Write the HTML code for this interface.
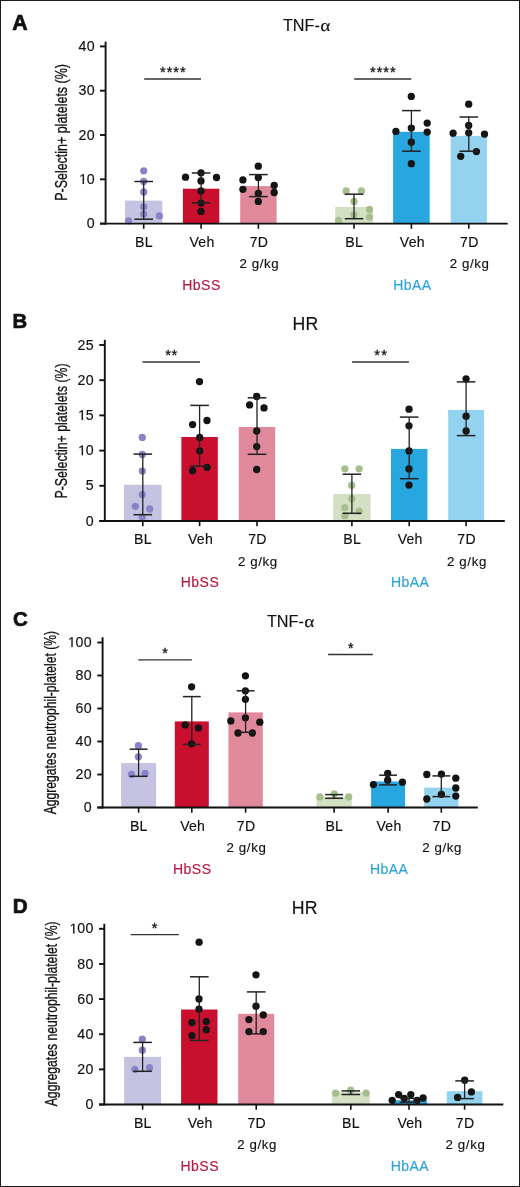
<!DOCTYPE html>
<html><head><meta charset="utf-8"><style>
html,body{margin:0;padding:0;background:#fff;}
body{width:520px;height:1187px;overflow:hidden;position:relative;}
svg{position:absolute;left:0;top:0;display:block;will-change:transform;font-family:"Liberation Sans",sans-serif;}
.frame{position:absolute;left:0;top:0;width:518px;height:1185px;border:1px solid #1a1a1a;}
</style></head><body>
<svg width="520" height="1187" viewBox="0 0 520 1187">
<text x="12.27" y="29.80" font-size="21.30" letter-spacing="-0.27" fill="#111" stroke="#111" stroke-width="0.7" font-weight="bold" >A</text>
<text x="282.98" y="30.50" font-size="16.20" fill="#111" stroke="#111" stroke-width="0.15">TNF-</text>
<text transform="translate(320.24,31.00) scale(1.12,1) skewX(-2)" x="0" y="0" font-size="17.0" font-family="Liberation Serif" fill="#111" stroke="#111" stroke-width="0.15">α</text>
<text transform="translate(67.00,200.80) rotate(-90) scale(0.7644,1)" x="0" y="0" font-size="16.30" fill="#111" stroke="#111" stroke-width="0.3">P-Selectin+ platelets (%)</text>
<rect x="125.10" y="200.60" width="37.20" height="23.00" fill="#c5c3e1"/>
<rect x="182.90" y="188.70" width="36.40" height="34.90" fill="#c8102e"/>
<rect x="240.20" y="186.10" width="36.40" height="37.50" fill="#e0899a"/>
<rect x="335.20" y="207.00" width="37.60" height="16.60" fill="#d4e0c4"/>
<rect x="393.10" y="131.80" width="36.60" height="91.80" fill="#27a6df"/>
<rect x="450.70" y="135.90" width="36.20" height="87.70" fill="#94d3f0"/>
<circle cx="143.70" cy="170.80" r="3.65" fill="#8a84c7"/>
<circle cx="143.70" cy="181.50" r="3.65" fill="#8a84c7"/>
<circle cx="143.70" cy="192.00" r="3.65" fill="#8a84c7"/>
<circle cx="143.70" cy="206.80" r="3.65" fill="#8a84c7"/>
<circle cx="143.70" cy="214.10" r="3.65" fill="#8a84c7"/>
<circle cx="128.60" cy="220.80" r="3.65" fill="#8a84c7"/>
<circle cx="159.30" cy="215.90" r="3.65" fill="#8a84c7"/>
<circle cx="201.00" cy="172.80" r="3.65" fill="#141414"/>
<circle cx="185.50" cy="177.20" r="3.65" fill="#141414"/>
<circle cx="216.50" cy="177.50" r="3.65" fill="#141414"/>
<circle cx="201.00" cy="180.90" r="3.65" fill="#141414"/>
<circle cx="201.00" cy="191.00" r="3.65" fill="#141414"/>
<circle cx="201.00" cy="203.10" r="3.65" fill="#141414"/>
<circle cx="201.00" cy="211.40" r="3.65" fill="#141414"/>
<circle cx="258.30" cy="166.20" r="3.65" fill="#141414"/>
<circle cx="242.90" cy="179.90" r="3.65" fill="#141414"/>
<circle cx="258.30" cy="177.60" r="3.65" fill="#141414"/>
<circle cx="242.90" cy="189.30" r="3.65" fill="#141414"/>
<circle cx="274.20" cy="185.30" r="3.65" fill="#141414"/>
<circle cx="274.20" cy="192.50" r="3.65" fill="#141414"/>
<circle cx="258.30" cy="193.30" r="3.65" fill="#141414"/>
<circle cx="258.30" cy="201.40" r="3.65" fill="#141414"/>
<circle cx="346.20" cy="190.90" r="3.65" fill="#a7bf8f"/>
<circle cx="361.40" cy="190.90" r="3.65" fill="#a7bf8f"/>
<circle cx="354.00" cy="201.40" r="3.65" fill="#a7bf8f"/>
<circle cx="369.50" cy="209.40" r="3.65" fill="#a7bf8f"/>
<circle cx="354.00" cy="214.80" r="3.65" fill="#a7bf8f"/>
<circle cx="369.50" cy="217.10" r="3.65" fill="#a7bf8f"/>
<circle cx="338.60" cy="220.50" r="3.65" fill="#a7bf8f"/>
<circle cx="411.30" cy="96.40" r="3.65" fill="#141414"/>
<circle cx="427.20" cy="123.10" r="3.65" fill="#141414"/>
<circle cx="411.30" cy="128.10" r="3.65" fill="#141414"/>
<circle cx="395.90" cy="131.40" r="3.65" fill="#141414"/>
<circle cx="427.20" cy="132.10" r="3.65" fill="#141414"/>
<circle cx="411.30" cy="142.20" r="3.65" fill="#141414"/>
<circle cx="411.30" cy="163.70" r="3.65" fill="#141414"/>
<circle cx="468.70" cy="104.20" r="3.65" fill="#141414"/>
<circle cx="468.70" cy="125.40" r="3.65" fill="#141414"/>
<circle cx="453.10" cy="133.20" r="3.65" fill="#141414"/>
<circle cx="468.70" cy="132.80" r="3.65" fill="#141414"/>
<circle cx="484.50" cy="134.10" r="3.65" fill="#141414"/>
<circle cx="476.40" cy="151.60" r="3.65" fill="#141414"/>
<circle cx="460.70" cy="156.30" r="3.65" fill="#141414"/>
<line x1="143.70" y1="181.50" x2="143.70" y2="219.20" stroke="#222" stroke-width="1.3"/>
<line x1="134.40" y1="181.50" x2="153.00" y2="181.50" stroke="#222" stroke-width="1.5"/>
<line x1="134.40" y1="219.20" x2="153.00" y2="219.20" stroke="#222" stroke-width="1.5"/>
<line x1="201.10" y1="173.00" x2="201.10" y2="202.80" stroke="#222" stroke-width="1.3"/>
<line x1="191.80" y1="173.00" x2="210.40" y2="173.00" stroke="#222" stroke-width="1.5"/>
<line x1="191.80" y1="202.80" x2="210.40" y2="202.80" stroke="#222" stroke-width="1.5"/>
<line x1="258.40" y1="174.60" x2="258.40" y2="196.60" stroke="#222" stroke-width="1.3"/>
<line x1="249.10" y1="174.60" x2="267.70" y2="174.60" stroke="#222" stroke-width="1.5"/>
<line x1="249.10" y1="196.60" x2="267.70" y2="196.60" stroke="#222" stroke-width="1.5"/>
<line x1="354.00" y1="194.20" x2="354.00" y2="218.70" stroke="#222" stroke-width="1.3"/>
<line x1="344.70" y1="194.20" x2="363.30" y2="194.20" stroke="#222" stroke-width="1.5"/>
<line x1="344.70" y1="218.70" x2="363.30" y2="218.70" stroke="#222" stroke-width="1.5"/>
<line x1="411.40" y1="110.60" x2="411.40" y2="151.20" stroke="#222" stroke-width="1.3"/>
<line x1="402.10" y1="110.60" x2="420.70" y2="110.60" stroke="#222" stroke-width="1.5"/>
<line x1="402.10" y1="151.20" x2="420.70" y2="151.20" stroke="#222" stroke-width="1.5"/>
<line x1="468.80" y1="117.00" x2="468.80" y2="151.20" stroke="#222" stroke-width="1.3"/>
<line x1="459.50" y1="117.00" x2="478.10" y2="117.00" stroke="#222" stroke-width="1.5"/>
<line x1="459.50" y1="151.20" x2="478.10" y2="151.20" stroke="#222" stroke-width="1.5"/>
<line x1="105.60" y1="41.60" x2="105.60" y2="224.50" stroke="#111" stroke-width="1.9"/>
<line x1="100.00" y1="223.60" x2="507.70" y2="223.60" stroke="#111" stroke-width="1.9"/>
<line x1="100.00" y1="223.60" x2="105.60" y2="223.60" stroke="#111" stroke-width="1.9"/>
<line x1="100.00" y1="179.30" x2="105.60" y2="179.30" stroke="#111" stroke-width="1.9"/>
<line x1="100.00" y1="135.00" x2="105.60" y2="135.00" stroke="#111" stroke-width="1.9"/>
<line x1="100.00" y1="90.70" x2="105.60" y2="90.70" stroke="#111" stroke-width="1.9"/>
<line x1="100.00" y1="46.40" x2="105.60" y2="46.40" stroke="#111" stroke-width="1.9"/>
<line x1="143.70" y1="223.60" x2="143.70" y2="228.80" stroke="#111" stroke-width="1.6"/>
<line x1="201.10" y1="223.60" x2="201.10" y2="228.80" stroke="#111" stroke-width="1.6"/>
<line x1="258.40" y1="223.60" x2="258.40" y2="228.80" stroke="#111" stroke-width="1.6"/>
<line x1="354.00" y1="223.60" x2="354.00" y2="228.80" stroke="#111" stroke-width="1.6"/>
<line x1="411.40" y1="223.60" x2="411.40" y2="228.80" stroke="#111" stroke-width="1.6"/>
<line x1="468.80" y1="223.60" x2="468.80" y2="228.80" stroke="#111" stroke-width="1.6"/>
<text x="86.69" y="228.22" font-size="14.20" letter-spacing="0.40" fill="#111" stroke="#111" stroke-width="0.15">0</text>
<path transform="translate(79.11,183.92) scale(0.00693,-0.00693)" d="M515,0 L515,1237 L197,1010 L197,1180 L530,1409 L696,1409 L696,0 Z" fill="#111" stroke="#111" stroke-width="21.6"/>
<text x="86.70" y="183.92" font-size="14.20" letter-spacing="0.40" fill="#111" stroke="#111" stroke-width="0.15">0</text>
<text x="78.41" y="139.62" font-size="14.20" letter-spacing="0.40" fill="#111" stroke="#111" stroke-width="0.15">20</text>
<text x="78.41" y="95.32" font-size="14.20" letter-spacing="0.40" fill="#111" stroke="#111" stroke-width="0.15">30</text>
<text x="78.41" y="51.02" font-size="14.20" letter-spacing="0.40" fill="#111" stroke="#111" stroke-width="0.15">40</text>
<text x="135.00" y="246.60" font-size="14.10" letter-spacing="0.30" fill="#111" stroke="#111" stroke-width="0.15">BL</text>
<text x="189.56" y="246.60" font-size="14.10" letter-spacing="0.20" fill="#111" stroke="#111" stroke-width="0.15">Veh</text>
<text x="249.63" y="246.60" font-size="14.10" letter-spacing="0.30" fill="#111" stroke="#111" stroke-width="0.15">7D</text>
<text x="239.38" y="268.20" font-size="13.30" letter-spacing="0.60" fill="#111" stroke="#111" stroke-width="0.15">2 g/kg</text>
<text x="345.30" y="246.60" font-size="14.10" letter-spacing="0.30" fill="#111" stroke="#111" stroke-width="0.15">BL</text>
<text x="399.86" y="246.60" font-size="14.10" letter-spacing="0.20" fill="#111" stroke="#111" stroke-width="0.15">Veh</text>
<text x="460.03" y="246.60" font-size="14.10" letter-spacing="0.30" fill="#111" stroke="#111" stroke-width="0.15">7D</text>
<text x="449.78" y="268.20" font-size="13.30" letter-spacing="0.60" fill="#111" stroke="#111" stroke-width="0.15">2 g/kg</text>
<text x="182.23" y="289.60" font-size="14.00" letter-spacing="0.50" fill="#b8173f" stroke="#b8173f" stroke-width="0.15">HbSS</text>
<text x="393.27" y="289.60" font-size="14.00" letter-spacing="0.40" fill="#2aa2db" stroke="#2aa2db" stroke-width="0.15">HbAA</text>
<line x1="144.20" y1="79.00" x2="201.00" y2="79.00" stroke="#333" stroke-width="1.3"/>
<text x="160.01" y="77.25" font-size="14.57" letter-spacing="0.96" fill="#111" stroke="#111" stroke-width="0.3">****</text>
<line x1="354.20" y1="79.00" x2="411.30" y2="79.00" stroke="#333" stroke-width="1.3"/>
<text x="370.01" y="77.25" font-size="14.57" letter-spacing="0.96" fill="#111" stroke="#111" stroke-width="0.3">****</text>
<text x="12.48" y="328.40" font-size="20.29" letter-spacing="1.42" fill="#111" stroke="#111" stroke-width="0.7" font-weight="bold" >B</text>
<text x="292.38" y="329.90" font-size="17.70" letter-spacing="0.4" fill="#111" stroke="#111" stroke-width="0.15">HR</text>
<text transform="translate(66.70,498.49) rotate(-90) scale(0.7559,1)" x="0" y="0" font-size="16.30" fill="#111" stroke="#111" stroke-width="0.3">P-Selectin+ platelets (%)</text>
<rect x="124.00" y="484.80" width="37.60" height="36.20" fill="#c5c3e1"/>
<rect x="181.40" y="437.00" width="36.40" height="84.00" fill="#c8102e"/>
<rect x="238.80" y="427.00" width="36.40" height="94.00" fill="#e0899a"/>
<rect x="333.20" y="494.00" width="37.40" height="27.00" fill="#d4e0c4"/>
<rect x="391.00" y="448.90" width="36.40" height="72.10" fill="#27a6df"/>
<rect x="448.20" y="410.00" width="35.80" height="111.00" fill="#94d3f0"/>
<circle cx="142.30" cy="437.40" r="3.65" fill="#8a84c7"/>
<circle cx="142.30" cy="454.50" r="3.65" fill="#8a84c7"/>
<circle cx="142.30" cy="471.10" r="3.65" fill="#8a84c7"/>
<circle cx="142.30" cy="494.60" r="3.65" fill="#8a84c7"/>
<circle cx="135.30" cy="506.30" r="3.65" fill="#8a84c7"/>
<circle cx="149.70" cy="509.00" r="3.65" fill="#8a84c7"/>
<circle cx="142.30" cy="517.10" r="3.65" fill="#8a84c7"/>
<circle cx="199.50" cy="381.60" r="3.65" fill="#141414"/>
<circle cx="192.60" cy="424.60" r="3.65" fill="#141414"/>
<circle cx="207.00" cy="420.50" r="3.65" fill="#141414"/>
<circle cx="199.70" cy="437.40" r="3.65" fill="#141414"/>
<circle cx="199.70" cy="450.90" r="3.65" fill="#141414"/>
<circle cx="192.60" cy="470.70" r="3.65" fill="#141414"/>
<circle cx="207.00" cy="467.30" r="3.65" fill="#141414"/>
<circle cx="256.70" cy="396.40" r="3.65" fill="#141414"/>
<circle cx="249.60" cy="404.90" r="3.65" fill="#141414"/>
<circle cx="264.00" cy="407.90" r="3.65" fill="#141414"/>
<circle cx="256.70" cy="431.00" r="3.65" fill="#141414"/>
<circle cx="256.70" cy="446.60" r="3.65" fill="#141414"/>
<circle cx="256.70" cy="469.50" r="3.65" fill="#141414"/>
<circle cx="344.90" cy="468.80" r="3.65" fill="#a7bf8f"/>
<circle cx="359.10" cy="468.80" r="3.65" fill="#a7bf8f"/>
<circle cx="351.70" cy="485.30" r="3.65" fill="#a7bf8f"/>
<circle cx="351.70" cy="498.70" r="3.65" fill="#a7bf8f"/>
<circle cx="344.90" cy="507.60" r="3.65" fill="#a7bf8f"/>
<circle cx="359.10" cy="511.20" r="3.65" fill="#a7bf8f"/>
<circle cx="344.90" cy="515.70" r="3.65" fill="#a7bf8f"/>
<circle cx="409.00" cy="409.20" r="3.65" fill="#141414"/>
<circle cx="409.00" cy="425.80" r="3.65" fill="#141414"/>
<circle cx="409.00" cy="450.90" r="3.65" fill="#141414"/>
<circle cx="409.00" cy="468.90" r="3.65" fill="#141414"/>
<circle cx="409.00" cy="485.10" r="3.65" fill="#141414"/>
<circle cx="466.10" cy="378.80" r="3.65" fill="#141414"/>
<circle cx="466.10" cy="416.20" r="3.65" fill="#141414"/>
<circle cx="466.10" cy="431.00" r="3.65" fill="#141414"/>
<line x1="142.80" y1="454.10" x2="142.80" y2="514.70" stroke="#222" stroke-width="1.3"/>
<line x1="133.50" y1="454.10" x2="152.10" y2="454.10" stroke="#222" stroke-width="1.5"/>
<line x1="133.50" y1="514.70" x2="152.10" y2="514.70" stroke="#222" stroke-width="1.5"/>
<line x1="199.60" y1="405.40" x2="199.60" y2="466.20" stroke="#222" stroke-width="1.3"/>
<line x1="190.30" y1="405.40" x2="208.90" y2="405.40" stroke="#222" stroke-width="1.5"/>
<line x1="190.30" y1="466.20" x2="208.90" y2="466.20" stroke="#222" stroke-width="1.5"/>
<line x1="257.00" y1="397.80" x2="257.00" y2="454.30" stroke="#222" stroke-width="1.3"/>
<line x1="247.70" y1="397.80" x2="266.30" y2="397.80" stroke="#222" stroke-width="1.5"/>
<line x1="247.70" y1="454.30" x2="266.30" y2="454.30" stroke="#222" stroke-width="1.5"/>
<line x1="351.90" y1="474.20" x2="351.90" y2="513.30" stroke="#222" stroke-width="1.3"/>
<line x1="342.60" y1="474.20" x2="361.20" y2="474.20" stroke="#222" stroke-width="1.5"/>
<line x1="342.60" y1="513.30" x2="361.20" y2="513.30" stroke="#222" stroke-width="1.5"/>
<line x1="409.20" y1="417.10" x2="409.20" y2="478.70" stroke="#222" stroke-width="1.3"/>
<line x1="399.90" y1="417.10" x2="418.50" y2="417.10" stroke="#222" stroke-width="1.5"/>
<line x1="399.90" y1="478.70" x2="418.50" y2="478.70" stroke="#222" stroke-width="1.5"/>
<line x1="466.10" y1="381.90" x2="466.10" y2="435.60" stroke="#222" stroke-width="1.3"/>
<line x1="456.80" y1="381.90" x2="475.40" y2="381.90" stroke="#222" stroke-width="1.5"/>
<line x1="456.80" y1="435.60" x2="475.40" y2="435.60" stroke="#222" stroke-width="1.5"/>
<line x1="104.80" y1="339.80" x2="104.80" y2="521.90" stroke="#111" stroke-width="1.9"/>
<line x1="99.30" y1="521.00" x2="504.80" y2="521.00" stroke="#111" stroke-width="1.9"/>
<line x1="99.30" y1="521.00" x2="104.80" y2="521.00" stroke="#111" stroke-width="1.9"/>
<line x1="99.30" y1="485.80" x2="104.80" y2="485.80" stroke="#111" stroke-width="1.9"/>
<line x1="99.30" y1="450.60" x2="104.80" y2="450.60" stroke="#111" stroke-width="1.9"/>
<line x1="99.30" y1="415.40" x2="104.80" y2="415.40" stroke="#111" stroke-width="1.9"/>
<line x1="99.30" y1="380.20" x2="104.80" y2="380.20" stroke="#111" stroke-width="1.9"/>
<line x1="99.30" y1="345.00" x2="104.80" y2="345.00" stroke="#111" stroke-width="1.9"/>
<line x1="142.80" y1="521.00" x2="142.80" y2="526.20" stroke="#111" stroke-width="1.6"/>
<line x1="199.60" y1="521.00" x2="199.60" y2="526.20" stroke="#111" stroke-width="1.6"/>
<line x1="257.00" y1="521.00" x2="257.00" y2="526.20" stroke="#111" stroke-width="1.6"/>
<line x1="351.90" y1="521.00" x2="351.90" y2="526.20" stroke="#111" stroke-width="1.6"/>
<line x1="409.20" y1="521.00" x2="409.20" y2="526.20" stroke="#111" stroke-width="1.6"/>
<line x1="466.10" y1="521.00" x2="466.10" y2="526.20" stroke="#111" stroke-width="1.6"/>
<text x="85.69" y="525.62" font-size="14.20" letter-spacing="0.40" fill="#111" stroke="#111" stroke-width="0.15">0</text>
<text x="85.69" y="490.42" font-size="14.20" letter-spacing="0.40" fill="#111" stroke="#111" stroke-width="0.15">5</text>
<path transform="translate(78.11,455.22) scale(0.00693,-0.00693)" d="M515,0 L515,1237 L197,1010 L197,1180 L530,1409 L696,1409 L696,0 Z" fill="#111" stroke="#111" stroke-width="21.6"/>
<text x="85.70" y="455.22" font-size="14.20" letter-spacing="0.40" fill="#111" stroke="#111" stroke-width="0.15">0</text>
<path transform="translate(78.11,420.02) scale(0.00693,-0.00693)" d="M515,0 L515,1237 L197,1010 L197,1180 L530,1409 L696,1409 L696,0 Z" fill="#111" stroke="#111" stroke-width="21.6"/>
<text x="85.70" y="420.02" font-size="14.20" letter-spacing="0.40" fill="#111" stroke="#111" stroke-width="0.15">5</text>
<text x="77.41" y="384.82" font-size="14.20" letter-spacing="0.40" fill="#111" stroke="#111" stroke-width="0.15">20</text>
<text x="77.41" y="349.62" font-size="14.20" letter-spacing="0.40" fill="#111" stroke="#111" stroke-width="0.15">25</text>
<text x="134.10" y="544.00" font-size="14.10" letter-spacing="0.30" fill="#111" stroke="#111" stroke-width="0.15">BL</text>
<text x="188.06" y="544.00" font-size="14.10" letter-spacing="0.20" fill="#111" stroke="#111" stroke-width="0.15">Veh</text>
<text x="248.23" y="544.00" font-size="14.10" letter-spacing="0.30" fill="#111" stroke="#111" stroke-width="0.15">7D</text>
<text x="237.98" y="565.60" font-size="13.30" letter-spacing="0.60" fill="#111" stroke="#111" stroke-width="0.15">2 g/kg</text>
<text x="343.20" y="544.00" font-size="14.10" letter-spacing="0.30" fill="#111" stroke="#111" stroke-width="0.15">BL</text>
<text x="397.66" y="544.00" font-size="14.10" letter-spacing="0.20" fill="#111" stroke="#111" stroke-width="0.15">Veh</text>
<text x="457.33" y="544.00" font-size="14.10" letter-spacing="0.30" fill="#111" stroke="#111" stroke-width="0.15">7D</text>
<text x="447.08" y="565.60" font-size="13.30" letter-spacing="0.60" fill="#111" stroke="#111" stroke-width="0.15">2 g/kg</text>
<text x="180.73" y="587.00" font-size="14.00" letter-spacing="0.50" fill="#b8173f" stroke="#b8173f" stroke-width="0.15">HbSS</text>
<text x="391.07" y="587.00" font-size="14.00" letter-spacing="0.40" fill="#2aa2db" stroke="#2aa2db" stroke-width="0.15">HbAA</text>
<line x1="142.50" y1="362.00" x2="200.00" y2="362.00" stroke="#333" stroke-width="1.3"/>
<text x="165.20" y="360.25" font-size="14.86" letter-spacing="0.52" fill="#111" stroke="#111" stroke-width="0.3">**</text>
<line x1="352.10" y1="362.00" x2="408.90" y2="362.00" stroke="#333" stroke-width="1.3"/>
<text x="374.30" y="360.25" font-size="14.86" letter-spacing="1.12" fill="#111" stroke="#111" stroke-width="0.3">**</text>
<text x="12.88" y="626.00" font-size="20.43" letter-spacing="-0.38" fill="#111" stroke="#111" stroke-width="0.7" font-weight="bold" >C</text>
<text x="266.98" y="626.80" font-size="16.20" fill="#111" stroke="#111" stroke-width="0.15">TNF-</text>
<text transform="translate(304.24,627.30) scale(1.12,1) skewX(-2)" x="0" y="0" font-size="17.0" font-family="Liberation Serif" fill="#111" stroke="#111" stroke-width="0.15">α</text>
<text transform="translate(56.00,814.26) rotate(-90) scale(0.7506,1)" x="0" y="0" font-size="16.10" fill="#111" stroke="#111" stroke-width="0.3">Aggregates neutrophil-platelet (%)</text>
<rect x="121.10" y="763.10" width="35.00" height="44.40" fill="#c5c3e1"/>
<rect x="174.80" y="721.40" width="34.00" height="86.10" fill="#c8102e"/>
<rect x="228.40" y="712.40" width="34.40" height="95.10" fill="#e0899a"/>
<rect x="316.40" y="796.90" width="35.40" height="10.60" fill="#d4e0c4"/>
<rect x="371.10" y="781.50" width="34.00" height="26.00" fill="#27a6df"/>
<rect x="424.20" y="787.60" width="34.20" height="19.90" fill="#94d3f0"/>
<circle cx="138.40" cy="745.70" r="3.65" fill="#8a84c7"/>
<circle cx="138.40" cy="756.80" r="3.65" fill="#8a84c7"/>
<circle cx="131.50" cy="774.30" r="3.65" fill="#8a84c7"/>
<circle cx="145.00" cy="773.40" r="3.65" fill="#8a84c7"/>
<circle cx="191.60" cy="686.80" r="3.65" fill="#141414"/>
<circle cx="185.20" cy="724.90" r="3.65" fill="#141414"/>
<circle cx="198.40" cy="727.90" r="3.65" fill="#141414"/>
<circle cx="191.60" cy="743.80" r="3.65" fill="#141414"/>
<circle cx="245.40" cy="675.80" r="3.65" fill="#141414"/>
<circle cx="245.40" cy="690.80" r="3.65" fill="#141414"/>
<circle cx="245.40" cy="699.30" r="3.65" fill="#141414"/>
<circle cx="245.40" cy="717.80" r="3.65" fill="#141414"/>
<circle cx="230.80" cy="720.90" r="3.65" fill="#141414"/>
<circle cx="259.80" cy="722.20" r="3.65" fill="#141414"/>
<circle cx="238.00" cy="733.00" r="3.65" fill="#141414"/>
<circle cx="252.40" cy="733.00" r="3.65" fill="#141414"/>
<circle cx="319.90" cy="796.90" r="3.65" fill="#a7bf8f"/>
<circle cx="334.30" cy="794.00" r="3.65" fill="#a7bf8f"/>
<circle cx="348.70" cy="796.90" r="3.65" fill="#a7bf8f"/>
<circle cx="387.70" cy="773.50" r="3.65" fill="#141414"/>
<circle cx="387.70" cy="780.20" r="3.65" fill="#141414"/>
<circle cx="373.40" cy="784.60" r="3.65" fill="#141414"/>
<circle cx="402.40" cy="782.20" r="3.65" fill="#141414"/>
<circle cx="426.80" cy="774.50" r="3.65" fill="#141414"/>
<circle cx="441.40" cy="774.10" r="3.65" fill="#141414"/>
<circle cx="455.80" cy="778.20" r="3.65" fill="#141414"/>
<circle cx="455.80" cy="788.00" r="3.65" fill="#141414"/>
<circle cx="441.40" cy="794.30" r="3.65" fill="#141414"/>
<circle cx="455.80" cy="796.10" r="3.65" fill="#141414"/>
<circle cx="426.80" cy="799.00" r="3.65" fill="#141414"/>
<line x1="138.60" y1="749.20" x2="138.60" y2="776.30" stroke="#222" stroke-width="1.3"/>
<line x1="129.70" y1="749.20" x2="147.50" y2="749.20" stroke="#222" stroke-width="1.5"/>
<line x1="129.70" y1="776.30" x2="147.50" y2="776.30" stroke="#222" stroke-width="1.5"/>
<line x1="191.80" y1="696.60" x2="191.80" y2="744.40" stroke="#222" stroke-width="1.3"/>
<line x1="182.90" y1="696.60" x2="200.70" y2="696.60" stroke="#222" stroke-width="1.5"/>
<line x1="182.90" y1="744.40" x2="200.70" y2="744.40" stroke="#222" stroke-width="1.5"/>
<line x1="245.60" y1="690.80" x2="245.60" y2="732.30" stroke="#222" stroke-width="1.3"/>
<line x1="236.70" y1="690.80" x2="254.50" y2="690.80" stroke="#222" stroke-width="1.5"/>
<line x1="236.70" y1="732.30" x2="254.50" y2="732.30" stroke="#222" stroke-width="1.5"/>
<line x1="334.10" y1="794.60" x2="334.10" y2="798.30" stroke="#222" stroke-width="1.3"/>
<line x1="325.20" y1="794.60" x2="343.00" y2="794.60" stroke="#222" stroke-width="1.5"/>
<line x1="325.20" y1="798.30" x2="343.00" y2="798.30" stroke="#222" stroke-width="1.5"/>
<line x1="388.10" y1="775.20" x2="388.10" y2="784.90" stroke="#222" stroke-width="1.3"/>
<line x1="379.20" y1="775.20" x2="397.00" y2="775.20" stroke="#222" stroke-width="1.5"/>
<line x1="379.20" y1="784.90" x2="397.00" y2="784.90" stroke="#222" stroke-width="1.5"/>
<line x1="441.30" y1="775.90" x2="441.30" y2="796.60" stroke="#222" stroke-width="1.3"/>
<line x1="432.40" y1="775.90" x2="450.20" y2="775.90" stroke="#222" stroke-width="1.5"/>
<line x1="432.40" y1="796.60" x2="450.20" y2="796.60" stroke="#222" stroke-width="1.5"/>
<line x1="102.60" y1="637.20" x2="102.60" y2="808.40" stroke="#111" stroke-width="1.9"/>
<line x1="97.30" y1="807.50" x2="477.80" y2="807.50" stroke="#111" stroke-width="1.9"/>
<line x1="97.30" y1="807.50" x2="102.60" y2="807.50" stroke="#111" stroke-width="1.9"/>
<line x1="97.30" y1="774.50" x2="102.60" y2="774.50" stroke="#111" stroke-width="1.9"/>
<line x1="97.30" y1="741.50" x2="102.60" y2="741.50" stroke="#111" stroke-width="1.9"/>
<line x1="97.30" y1="708.50" x2="102.60" y2="708.50" stroke="#111" stroke-width="1.9"/>
<line x1="97.30" y1="675.50" x2="102.60" y2="675.50" stroke="#111" stroke-width="1.9"/>
<line x1="97.30" y1="642.50" x2="102.60" y2="642.50" stroke="#111" stroke-width="1.9"/>
<line x1="138.60" y1="807.50" x2="138.60" y2="812.70" stroke="#111" stroke-width="1.6"/>
<line x1="191.80" y1="807.50" x2="191.80" y2="812.70" stroke="#111" stroke-width="1.6"/>
<line x1="245.60" y1="807.50" x2="245.60" y2="812.70" stroke="#111" stroke-width="1.6"/>
<line x1="334.10" y1="807.50" x2="334.10" y2="812.70" stroke="#111" stroke-width="1.6"/>
<line x1="388.10" y1="807.50" x2="388.10" y2="812.70" stroke="#111" stroke-width="1.6"/>
<line x1="441.30" y1="807.50" x2="441.30" y2="812.70" stroke="#111" stroke-width="1.6"/>
<text x="83.69" y="812.12" font-size="14.20" letter-spacing="0.40" fill="#111" stroke="#111" stroke-width="0.15">0</text>
<text x="75.41" y="779.12" font-size="14.20" letter-spacing="0.40" fill="#111" stroke="#111" stroke-width="0.15">20</text>
<text x="75.41" y="746.12" font-size="14.20" letter-spacing="0.40" fill="#111" stroke="#111" stroke-width="0.15">40</text>
<text x="75.41" y="713.12" font-size="14.20" letter-spacing="0.40" fill="#111" stroke="#111" stroke-width="0.15">60</text>
<text x="75.41" y="680.12" font-size="14.20" letter-spacing="0.40" fill="#111" stroke="#111" stroke-width="0.15">80</text>
<path transform="translate(67.83,647.12) scale(0.00693,-0.00693)" d="M515,0 L515,1237 L197,1010 L197,1180 L530,1409 L696,1409 L696,0 Z" fill="#111" stroke="#111" stroke-width="21.6"/>
<text x="75.42" y="647.12" font-size="14.20" letter-spacing="0.40" fill="#111" stroke="#111" stroke-width="0.15">00</text>
<text x="129.90" y="830.50" font-size="14.10" letter-spacing="0.30" fill="#111" stroke="#111" stroke-width="0.15">BL</text>
<text x="180.26" y="830.50" font-size="14.10" letter-spacing="0.20" fill="#111" stroke="#111" stroke-width="0.15">Veh</text>
<text x="236.83" y="830.50" font-size="14.10" letter-spacing="0.30" fill="#111" stroke="#111" stroke-width="0.15">7D</text>
<text x="226.58" y="852.10" font-size="13.30" letter-spacing="0.60" fill="#111" stroke="#111" stroke-width="0.15">2 g/kg</text>
<text x="325.40" y="830.50" font-size="14.10" letter-spacing="0.30" fill="#111" stroke="#111" stroke-width="0.15">BL</text>
<text x="376.56" y="830.50" font-size="14.10" letter-spacing="0.20" fill="#111" stroke="#111" stroke-width="0.15">Veh</text>
<text x="432.53" y="830.50" font-size="14.10" letter-spacing="0.30" fill="#111" stroke="#111" stroke-width="0.15">7D</text>
<text x="422.28" y="852.10" font-size="13.30" letter-spacing="0.60" fill="#111" stroke="#111" stroke-width="0.15">2 g/kg</text>
<text x="172.94" y="873.50" font-size="14.00" letter-spacing="0.50" fill="#b8173f" stroke="#b8173f" stroke-width="0.15">HbSS</text>
<text x="369.97" y="873.50" font-size="14.00" letter-spacing="0.40" fill="#2aa2db" stroke="#2aa2db" stroke-width="0.15">HbAA</text>
<line x1="138.30" y1="659.90" x2="191.90" y2="659.90" stroke="#333" stroke-width="1.3"/>
<text x="162.21" y="657.66" font-size="14.29" letter-spacing="0.00" fill="#111" stroke="#111" stroke-width="0.3">*</text>
<line x1="328.10" y1="654.50" x2="372.80" y2="654.50" stroke="#333" stroke-width="1.3"/>
<text x="347.91" y="652.66" font-size="14.29" letter-spacing="0.00" fill="#111" stroke="#111" stroke-width="0.3">*</text>
<text x="12.66" y="912.50" font-size="20.58" letter-spacing="0.94" fill="#111" stroke="#111" stroke-width="0.7" font-weight="bold" >D</text>
<text x="291.68" y="914.25" font-size="17.70" letter-spacing="0.4" fill="#111" stroke="#111" stroke-width="0.15">HR</text>
<text transform="translate(57.30,1106.26) rotate(-90) scale(0.7572,1)" x="0" y="0" font-size="16.10" fill="#111" stroke="#111" stroke-width="0.3">Aggregates neutrophil-platelet (%)</text>
<rect x="124.10" y="1056.90" width="37.00" height="47.60" fill="#c5c3e1"/>
<rect x="181.10" y="1009.50" width="36.40" height="95.00" fill="#c8102e"/>
<rect x="238.20" y="1013.80" width="36.00" height="90.70" fill="#e0899a"/>
<rect x="331.80" y="1092.20" width="38.00" height="12.30" fill="#d4e0c4"/>
<rect x="390.80" y="1100.30" width="36.40" height="4.20" fill="#27a6df"/>
<rect x="446.80" y="1091.20" width="35.60" height="13.30" fill="#94d3f0"/>
<circle cx="142.30" cy="1039.20" r="3.65" fill="#8a84c7"/>
<circle cx="142.30" cy="1050.20" r="3.65" fill="#8a84c7"/>
<circle cx="134.90" cy="1069.30" r="3.65" fill="#8a84c7"/>
<circle cx="149.40" cy="1067.70" r="3.65" fill="#8a84c7"/>
<circle cx="199.10" cy="942.20" r="3.65" fill="#141414"/>
<circle cx="199.00" cy="999.00" r="3.65" fill="#141414"/>
<circle cx="199.00" cy="1009.10" r="3.65" fill="#141414"/>
<circle cx="191.90" cy="1022.60" r="3.65" fill="#141414"/>
<circle cx="206.30" cy="1021.60" r="3.65" fill="#141414"/>
<circle cx="206.30" cy="1029.70" r="3.65" fill="#141414"/>
<circle cx="191.90" cy="1035.60" r="3.65" fill="#141414"/>
<circle cx="256.00" cy="974.80" r="3.65" fill="#141414"/>
<circle cx="256.00" cy="1006.20" r="3.65" fill="#141414"/>
<circle cx="263.30" cy="1014.90" r="3.65" fill="#141414"/>
<circle cx="248.90" cy="1019.60" r="3.65" fill="#141414"/>
<circle cx="248.90" cy="1031.60" r="3.65" fill="#141414"/>
<circle cx="263.30" cy="1031.60" r="3.65" fill="#141414"/>
<circle cx="335.60" cy="1093.10" r="3.65" fill="#a7bf8f"/>
<circle cx="350.70" cy="1090.20" r="3.65" fill="#a7bf8f"/>
<circle cx="366.10" cy="1093.10" r="3.65" fill="#a7bf8f"/>
<circle cx="392.20" cy="1100.30" r="3.65" fill="#141414"/>
<circle cx="398.60" cy="1094.60" r="3.65" fill="#141414"/>
<circle cx="404.30" cy="1098.30" r="3.65" fill="#141414"/>
<circle cx="410.80" cy="1094.60" r="3.65" fill="#141414"/>
<circle cx="417.10" cy="1100.30" r="3.65" fill="#141414"/>
<circle cx="423.10" cy="1098.00" r="3.65" fill="#141414"/>
<circle cx="464.70" cy="1080.20" r="3.65" fill="#141414"/>
<circle cx="471.40" cy="1091.90" r="3.65" fill="#141414"/>
<circle cx="457.60" cy="1097.40" r="3.65" fill="#141414"/>
<line x1="142.60" y1="1042.40" x2="142.60" y2="1071.30" stroke="#222" stroke-width="1.3"/>
<line x1="133.30" y1="1042.40" x2="151.90" y2="1042.40" stroke="#222" stroke-width="1.5"/>
<line x1="133.30" y1="1071.30" x2="151.90" y2="1071.30" stroke="#222" stroke-width="1.5"/>
<line x1="199.30" y1="976.80" x2="199.30" y2="1040.50" stroke="#222" stroke-width="1.3"/>
<line x1="190.00" y1="976.80" x2="208.60" y2="976.80" stroke="#222" stroke-width="1.5"/>
<line x1="190.00" y1="1040.50" x2="208.60" y2="1040.50" stroke="#222" stroke-width="1.5"/>
<line x1="256.20" y1="991.90" x2="256.20" y2="1033.80" stroke="#222" stroke-width="1.3"/>
<line x1="246.90" y1="991.90" x2="265.50" y2="991.90" stroke="#222" stroke-width="1.5"/>
<line x1="246.90" y1="1033.80" x2="265.50" y2="1033.80" stroke="#222" stroke-width="1.5"/>
<line x1="350.80" y1="1090.90" x2="350.80" y2="1094.50" stroke="#222" stroke-width="1.3"/>
<line x1="341.50" y1="1090.90" x2="360.10" y2="1090.90" stroke="#222" stroke-width="1.5"/>
<line x1="341.50" y1="1094.50" x2="360.10" y2="1094.50" stroke="#222" stroke-width="1.5"/>
<line x1="409.00" y1="1098.40" x2="409.00" y2="1102.20" stroke="#222" stroke-width="1.3"/>
<line x1="399.70" y1="1098.40" x2="418.30" y2="1098.40" stroke="#222" stroke-width="1.5"/>
<line x1="399.70" y1="1102.20" x2="418.30" y2="1102.20" stroke="#222" stroke-width="1.5"/>
<line x1="464.60" y1="1080.90" x2="464.60" y2="1098.60" stroke="#222" stroke-width="1.3"/>
<line x1="455.30" y1="1080.90" x2="473.90" y2="1080.90" stroke="#222" stroke-width="1.5"/>
<line x1="455.30" y1="1098.60" x2="473.90" y2="1098.60" stroke="#222" stroke-width="1.5"/>
<line x1="104.30" y1="923.80" x2="104.30" y2="1105.40" stroke="#111" stroke-width="1.9"/>
<line x1="99.00" y1="1104.50" x2="503.30" y2="1104.50" stroke="#111" stroke-width="1.9"/>
<line x1="99.00" y1="1104.50" x2="104.30" y2="1104.50" stroke="#111" stroke-width="1.9"/>
<line x1="99.00" y1="1069.36" x2="104.30" y2="1069.36" stroke="#111" stroke-width="1.9"/>
<line x1="99.00" y1="1034.22" x2="104.30" y2="1034.22" stroke="#111" stroke-width="1.9"/>
<line x1="99.00" y1="999.08" x2="104.30" y2="999.08" stroke="#111" stroke-width="1.9"/>
<line x1="99.00" y1="963.94" x2="104.30" y2="963.94" stroke="#111" stroke-width="1.9"/>
<line x1="99.00" y1="928.80" x2="104.30" y2="928.80" stroke="#111" stroke-width="1.9"/>
<line x1="142.60" y1="1104.50" x2="142.60" y2="1109.70" stroke="#111" stroke-width="1.6"/>
<line x1="199.30" y1="1104.50" x2="199.30" y2="1109.70" stroke="#111" stroke-width="1.6"/>
<line x1="256.20" y1="1104.50" x2="256.20" y2="1109.70" stroke="#111" stroke-width="1.6"/>
<line x1="350.80" y1="1104.50" x2="350.80" y2="1109.70" stroke="#111" stroke-width="1.6"/>
<line x1="409.00" y1="1104.50" x2="409.00" y2="1109.70" stroke="#111" stroke-width="1.6"/>
<line x1="464.60" y1="1104.50" x2="464.60" y2="1109.70" stroke="#111" stroke-width="1.6"/>
<text x="85.49" y="1109.12" font-size="14.20" letter-spacing="0.40" fill="#111" stroke="#111" stroke-width="0.15">0</text>
<text x="77.21" y="1073.98" font-size="14.20" letter-spacing="0.40" fill="#111" stroke="#111" stroke-width="0.15">20</text>
<text x="77.21" y="1038.84" font-size="14.20" letter-spacing="0.40" fill="#111" stroke="#111" stroke-width="0.15">40</text>
<text x="77.21" y="1003.70" font-size="14.20" letter-spacing="0.40" fill="#111" stroke="#111" stroke-width="0.15">60</text>
<text x="77.21" y="968.56" font-size="14.20" letter-spacing="0.40" fill="#111" stroke="#111" stroke-width="0.15">80</text>
<path transform="translate(69.62,933.42) scale(0.00693,-0.00693)" d="M515,0 L515,1237 L197,1010 L197,1180 L530,1409 L696,1409 L696,0 Z" fill="#111" stroke="#111" stroke-width="21.6"/>
<text x="77.22" y="933.42" font-size="14.20" letter-spacing="0.40" fill="#111" stroke="#111" stroke-width="0.15">00</text>
<text x="133.90" y="1127.50" font-size="14.10" letter-spacing="0.30" fill="#111" stroke="#111" stroke-width="0.15">BL</text>
<text x="187.76" y="1127.50" font-size="14.10" letter-spacing="0.20" fill="#111" stroke="#111" stroke-width="0.15">Veh</text>
<text x="247.43" y="1127.50" font-size="14.10" letter-spacing="0.30" fill="#111" stroke="#111" stroke-width="0.15">7D</text>
<text x="237.18" y="1149.10" font-size="13.30" letter-spacing="0.60" fill="#111" stroke="#111" stroke-width="0.15">2 g/kg</text>
<text x="342.10" y="1127.50" font-size="14.10" letter-spacing="0.30" fill="#111" stroke="#111" stroke-width="0.15">BL</text>
<text x="397.46" y="1127.50" font-size="14.10" letter-spacing="0.20" fill="#111" stroke="#111" stroke-width="0.15">Veh</text>
<text x="455.83" y="1127.50" font-size="14.10" letter-spacing="0.30" fill="#111" stroke="#111" stroke-width="0.15">7D</text>
<text x="445.58" y="1149.10" font-size="13.30" letter-spacing="0.60" fill="#111" stroke="#111" stroke-width="0.15">2 g/kg</text>
<text x="180.44" y="1170.50" font-size="14.00" letter-spacing="0.50" fill="#b8173f" stroke="#b8173f" stroke-width="0.15">HbSS</text>
<text x="390.87" y="1170.50" font-size="14.00" letter-spacing="0.40" fill="#2aa2db" stroke="#2aa2db" stroke-width="0.15">HbAA</text>
<line x1="130.70" y1="934.70" x2="178.80" y2="934.70" stroke="#333" stroke-width="1.3"/>
<text x="151.81" y="932.95" font-size="14.57" letter-spacing="0.00" fill="#111" stroke="#111" stroke-width="0.3">*</text>
</svg>
<div class="frame"></div>
</body></html>
